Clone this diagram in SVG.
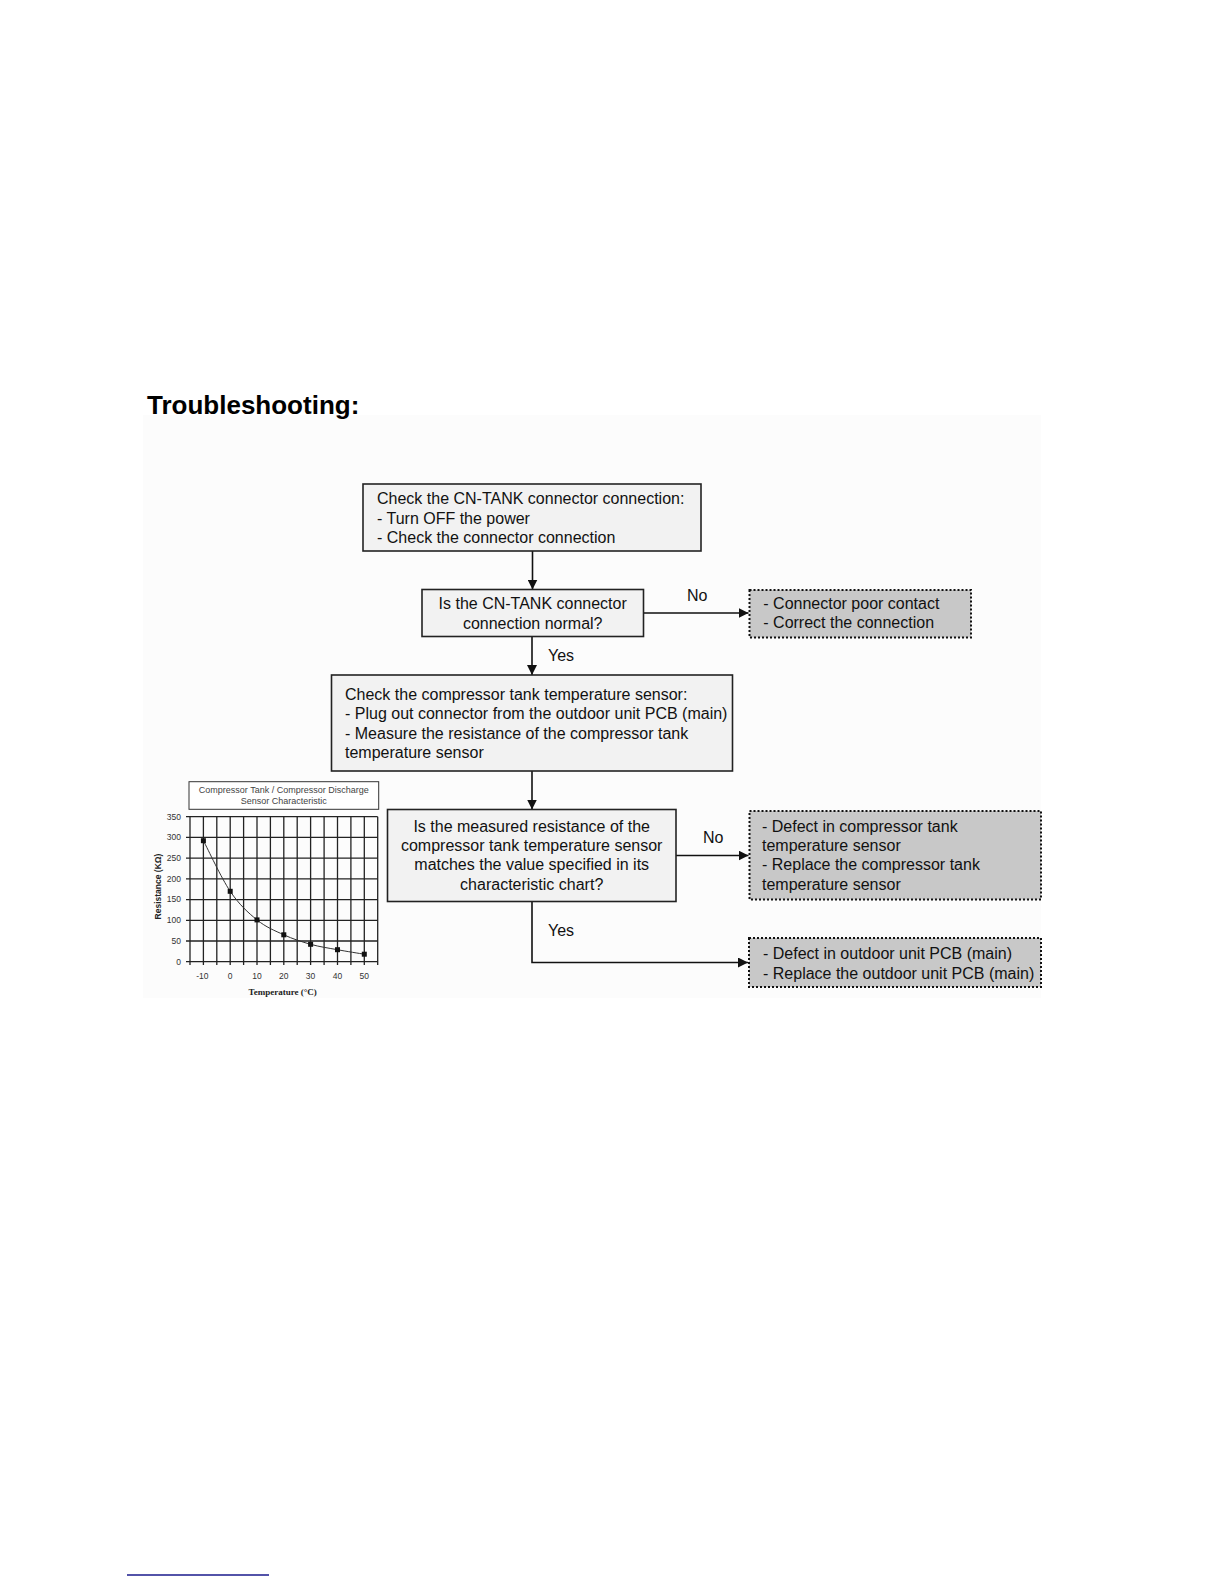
<svg xmlns="http://www.w3.org/2000/svg" width="1224" height="1584" viewBox="0 0 1224 1584">
<style>
  .t { font-family: "Liberation Sans", Arial, sans-serif; font-size: 16px; fill: #111; }
  .c { text-anchor: middle; }
  .box { fill: #f2f2f2; stroke: #222; stroke-width: 1.6; }
  .dbox { fill: #c8c8c8; stroke: #111; stroke-width: 2; stroke-dasharray: 2 2; }
  .ln { fill: none; stroke: #111; stroke-width: 1.6; }
  .grid { stroke: #222; stroke-width: 1.3; }
  .ax { font-family: "Liberation Sans", Arial, sans-serif; font-size: 8.5px; fill: #333; }
  .cap { font-family: "Liberation Sans", Arial, sans-serif; font-size: 9px; fill: #444; text-anchor: middle; }
</style>
<defs>
  <marker id="arr" viewBox="0 0 10 10" refX="10" refY="5" markerWidth="10" markerHeight="10" markerUnits="userSpaceOnUse" orient="auto">
    <path d="M0,0 L10,5 L0,10 z" fill="#111"/>
  </marker>
</defs>
<rect x="0" y="0" width="1224" height="1584" fill="#ffffff"/>
<rect x="143" y="415" width="898" height="583" fill="#fcfcfc"/>

<text x="147" y="413.5" style="font-family:'Liberation Sans',Arial,sans-serif;font-size:26px;font-weight:bold;fill:#000">Troubleshooting:</text>

<g id="connectors">
  <line class="ln" x1="532.5" y1="551" x2="532.5" y2="589.5" marker-end="url(#arr)"/>
  <line class="ln" x1="643.5" y1="613" x2="748.5" y2="613" marker-end="url(#arr)"/>
  <text class="t" x="687" y="601">No</text>
  <line class="ln" x1="532" y1="636.5" x2="532" y2="675" marker-end="url(#arr)"/>
  <text class="t" x="548" y="660.5">Yes</text>
  <line class="ln" x1="532" y1="771" x2="532" y2="809.5" marker-end="url(#arr)"/>
  <line class="ln" x1="676" y1="855.5" x2="748.5" y2="855.5" marker-end="url(#arr)"/>
  <text class="t" x="703" y="843">No</text>
  <polyline class="ln" points="532,901.5 532,962.5 748,962.5" marker-end="url(#arr)"/>
  <text class="t" x="548" y="936">Yes</text>
</g>

<g id="n1">
  <rect class="box" x="363" y="484" width="338" height="67"/>
  <text class="t" x="377" y="504.3">Check the CN-TANK connector connection:</text>
  <text class="t" x="377" y="523.7">- Turn OFF the power</text>
  <text class="t" x="377" y="543.1">- Check the connector connection</text>
</g>

<g id="n2">
  <rect class="box" x="422" y="589.5" width="221.5" height="47"/>
  <text class="t c" x="532.7" y="609.3">Is the CN-TANK connector</text>
  <text class="t c" x="532.7" y="628.6">connection normal?</text>
</g>

<g id="n3">
  <rect class="dbox" x="749.5" y="590" width="221.5" height="47.5"/>
  <text class="t" x="763.3" y="609">- Connector poor contact</text>
  <text class="t" x="763.3" y="628.3">- Correct the connection</text>
</g>

<g id="n4">
  <rect class="box" x="331.5" y="675" width="401" height="96"/>
  <text class="t" x="345" y="700">Check the compressor tank temperature sensor:</text>
  <text class="t" x="345" y="719.3">- Plug out connector from the outdoor unit PCB (main)</text>
  <text class="t" x="345" y="738.7">- Measure the resistance of the compressor tank</text>
  <text class="t" x="345" y="758">temperature sensor</text>
</g>

<g id="n5">
  <rect class="box" x="387.5" y="809.5" width="288.5" height="92"/>
  <text class="t c" x="531.7" y="831.7">Is the measured resistance of the</text>
  <text class="t c" x="531.7" y="851">compressor tank temperature sensor</text>
  <text class="t c" x="531.7" y="870.4">matches the value specified in its</text>
  <text class="t c" x="531.7" y="889.8">characteristic chart?</text>
</g>

<g id="n6">
  <rect class="dbox" x="749.5" y="811" width="291.5" height="88.5"/>
  <text class="t" x="762" y="831.7">- Defect in compressor tank</text>
  <text class="t" x="762" y="851">temperature sensor</text>
  <text class="t" x="762" y="870.4">- Replace the compressor tank</text>
  <text class="t" x="762" y="889.8">temperature sensor</text>
</g>

<g id="n7">
  <rect class="dbox" x="749" y="938" width="292" height="49"/>
  <text class="t" x="763" y="959">- Defect in outdoor unit PCB (main)</text>
  <text class="t" x="763" y="978.8">- Replace the outdoor unit PCB (main)</text>
</g>

<g id="chart">
  <rect x="189" y="781.7" width="189.7" height="27.6" fill="#fff" stroke="#333" stroke-width="1"/>
  <text class="cap" x="283.8" y="793.3">Compressor Tank / Compressor Discharge</text>
  <text class="cap" x="283.8" y="804">Sensor Characteristic</text>
  <g class="grid">
    <line x1="186" y1="961.7" x2="377.7" y2="961.7"/>
    <line x1="186" y1="941.0" x2="377.7" y2="941.0"/>
    <line x1="186" y1="920.3" x2="377.7" y2="920.3"/>
    <line x1="186" y1="899.6" x2="377.7" y2="899.6"/>
    <line x1="186" y1="878.8" x2="377.7" y2="878.8"/>
    <line x1="186" y1="858.1" x2="377.7" y2="858.1"/>
    <line x1="186" y1="837.4" x2="377.7" y2="837.4"/>
    <line x1="186" y1="816.7" x2="377.7" y2="816.7"/>
    <line x1="190" y1="816.7" x2="190" y2="965"/>
    <line x1="203.4" y1="816.7" x2="203.4" y2="965"/>
    <line x1="216.8" y1="816.7" x2="216.8" y2="965"/>
    <line x1="230.2" y1="816.7" x2="230.2" y2="965"/>
    <line x1="243.6" y1="816.7" x2="243.6" y2="965"/>
    <line x1="257.0" y1="816.7" x2="257.0" y2="965"/>
    <line x1="270.4" y1="816.7" x2="270.4" y2="965"/>
    <line x1="283.8" y1="816.7" x2="283.8" y2="965"/>
    <line x1="297.2" y1="816.7" x2="297.2" y2="965"/>
    <line x1="310.6" y1="816.7" x2="310.6" y2="965"/>
    <line x1="324.1" y1="816.7" x2="324.1" y2="965"/>
    <line x1="337.5" y1="816.7" x2="337.5" y2="965"/>
    <line x1="350.9" y1="816.7" x2="350.9" y2="965"/>
    <line x1="364.3" y1="816.7" x2="364.3" y2="965"/>
    <line x1="377.7" y1="816.7" x2="377.7" y2="965"/>
  </g>
  <path d="M203.4,840.7 C207.9,849.1 221.3,878.1 230.2,891.3 C239.1,904.5 248.1,912.7 257.0,919.9 C265.9,927.2 274.9,930.7 283.8,934.8 C292.7,938.9 301.7,941.8 310.6,944.3 C319.6,946.8 328.6,948.1 337.5,949.7 C346.4,951.4 359.8,953.5 364.3,954.2" fill="none" stroke="#333" stroke-width="1"/>
  <g fill="#111">
    <rect x="200.9" y="838.2" width="5" height="5"/>
    <rect x="227.7" y="888.8" width="5" height="5"/>
    <rect x="254.5" y="917.4" width="5" height="5"/>
    <rect x="281.3" y="932.3" width="5" height="5"/>
    <rect x="308.1" y="941.8" width="5" height="5"/>
    <rect x="335.0" y="947.2" width="5" height="5"/>
    <rect x="361.8" y="951.7" width="5" height="5"/>
  </g>
  <g class="ax" text-anchor="end">
    <text x="181" y="964.5">0</text>
    <text x="181" y="943.8">50</text>
    <text x="181" y="923.1">100</text>
    <text x="181" y="902.4">150</text>
    <text x="181" y="881.6">200</text>
    <text x="181" y="860.9">250</text>
    <text x="181" y="840.2">300</text>
    <text x="181" y="819.5">350</text>
  </g>
  <g class="ax" text-anchor="middle">
    <text x="202.4" y="979">-10</text>
    <text x="230.2" y="979">0</text>
    <text x="257.0" y="979">10</text>
    <text x="283.8" y="979">20</text>
    <text x="310.6" y="979">30</text>
    <text x="337.5" y="979">40</text>
    <text x="364.3" y="979">50</text>
  </g>
  <text x="282.7" y="995" text-anchor="middle" style="font-family:'Liberation Serif','Times New Roman',serif;font-size:9px;font-weight:bold;fill:#222">Temperature (°C)</text>
  <text x="0" y="0" text-anchor="middle" transform="translate(161,886.5) rotate(-90)" style="font-family:'Liberation Sans',Arial,sans-serif;font-size:8.5px;font-weight:bold;fill:#222">Resistance (KΩ)</text>
</g>

<line x1="127" y1="1575" x2="269" y2="1575" stroke="#1a1a8c" stroke-width="1.5"/>
</svg>
